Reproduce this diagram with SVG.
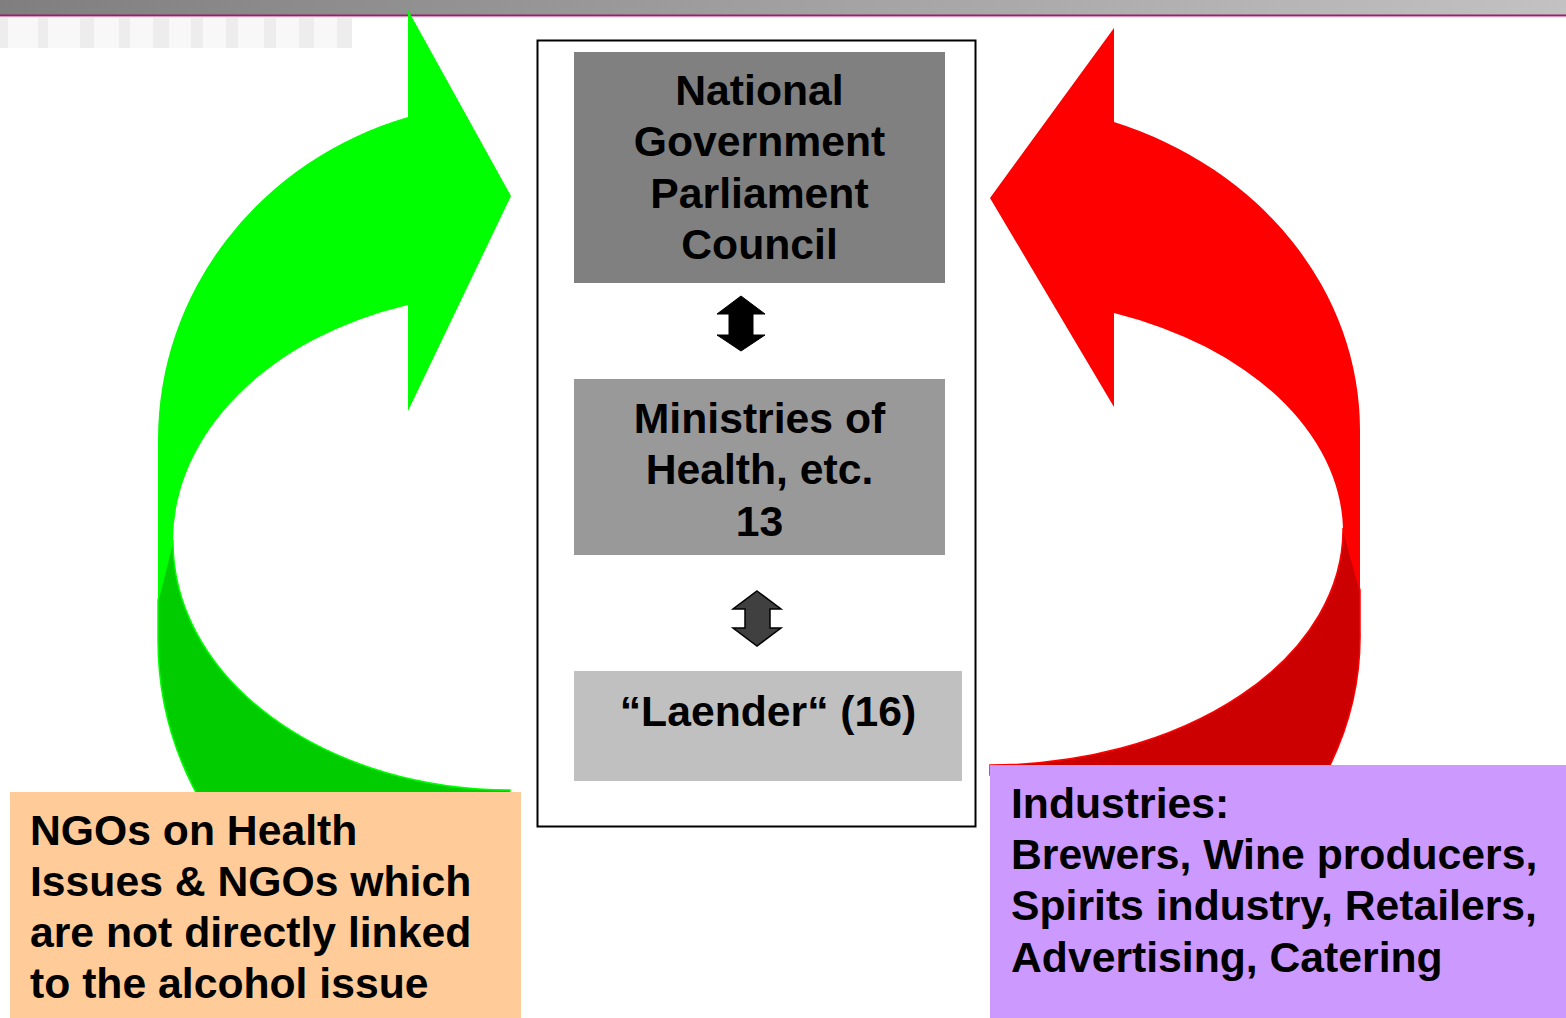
<svg xmlns="http://www.w3.org/2000/svg" width="1566" height="1018" viewBox="0 0 1566 1018">
<defs>
<linearGradient id="bar" x1="0" y1="0" x2="1" y2="0">
<stop offset="0" stop-color="#7f7f7f"/>
<stop offset="1" stop-color="#c2c2c2"/>
</linearGradient>
</defs>
<style>
text{font-family:"Liberation Sans",Arial,sans-serif;font-weight:bold;font-size:42.7px;fill:#000}
.c{text-anchor:middle}
.stripe{fill:#ededed}
</style>
<rect width="1566" height="1018" fill="#fff"/>
<rect x="0" y="0" width="1566" height="15" fill="url(#bar)"/>
<rect x="0" y="14.5" width="1566" height="2" fill="#9c1f6f"/>
<rect x="0" y="16.5" width="1566" height="0.8" fill="#d9a0c4"/>
<g id="stripes">
<rect x="0" y="18" width="352" height="30" fill="#f8f8f8"/>
<rect class="stripe" x="0" y="18" width="8" height="30"/>
<rect class="stripe" x="38" y="18" width="10" height="30"/>
<rect class="stripe" x="80" y="18" width="14" height="30"/>
<rect class="stripe" x="119" y="18" width="11" height="30"/>
<rect class="stripe" x="153" y="18" width="16" height="30"/>
<rect class="stripe" x="191" y="18" width="12" height="30"/>
<rect class="stripe" x="226" y="18" width="12" height="30"/>
<rect class="stripe" x="264" y="18" width="12" height="30"/>
<rect class="stripe" x="299" y="18" width="15" height="30"/>
<rect class="stripe" x="337" y="18" width="15" height="30"/>
</g>
<g id="green-arrow">
<path d="M 510,790 A 337 248 0 0 1 173,540 L 158,600 L 158,640 A 352 337 0 0 0 206,810 L 510,810 Z" fill="#00cc00" stroke="#00ff00" stroke-width="1.5"/>
<path d="M 408,117 L 408,10 L 511,196 L 408,411 L 408,305 A 337 248 0 0 0 173,540 L 158,600 L 158,440 A 352 337 0 0 1 408,117 Z" fill="#00ff00"/>
</g>
<g id="red-arrow">
<path d="M 990,765 A 353 235 0 0 0 1343,528 L 1360,590 L 1360,630 A 370 327 0 0 1 1325,775 L 990,775 Z" fill="#cc0000" stroke="#ff0000" stroke-width="1.5"/>
<path d="M 1114,122 L 1114,28 L 990,198 L 1114,407 L 1114,313 A 353 235 0 0 1 1343,528 L 1360,590 L 1360,430 A 370 327 0 0 0 1114,122 Z" fill="#ff0000"/>
</g>
<g id="center-frame">
<rect x="537.5" y="40.5" width="438" height="786" fill="#fff" stroke="#000" stroke-width="2"/>
</g>
<g id="national">
<rect x="574" y="52" width="371" height="231" fill="#808080"/>
<text class="c" x="759.5" y="105">National</text>
<text class="c" x="759.5" y="156">Government</text>
<text class="c" x="759.5" y="208">Parliament</text>
<text class="c" x="759.5" y="259">Council</text>
</g>
<g id="ministries">
<rect x="574" y="379" width="371" height="176" fill="#999999"/>
<text class="c" x="759.5" y="433">Ministries of</text>
<text class="c" x="759.5" y="484">Health, etc.</text>
<text class="c" x="759.5" y="536">13</text>
</g>
<g id="laender">
<rect x="574" y="671" width="388" height="110" fill="#c0c0c0"/>
<text class="c" x="768" y="726">“Laender“ (16)</text>
</g>
<g id="connectors">
<path d="M741,296 L765,314 L753,314 L753,335 L765,335 L741,351 L717,335 L729,335 L729,314 L717,314 Z" fill="#000" stroke="#000" stroke-width="1"/>
<path d="M757,591 L781,609 L770,609 L770,628 L781,628 L757,646 L733,628 L745,628 L745,609 L733,609 Z" fill="#404040" stroke="#000" stroke-width="1.5"/>
</g>
<g id="ngos">
<rect x="10" y="792" width="511" height="226" fill="#ffcc99"/>
<text x="30" y="845">NGOs on Health</text>
<text x="30" y="896">Issues &amp; NGOs which</text>
<text x="30" y="947">are not directly linked</text>
<text x="30" y="998">to the alcohol issue</text>
</g>
<g id="industries">
<rect x="990" y="765" width="576" height="253" fill="#cc99ff"/>
<text x="1011" y="818">Industries:</text>
<text x="1011" y="869">Brewers, Wine producers,</text>
<text x="1011" y="920">Spirits industry, Retailers,</text>
<text x="1011" y="972">Advertising, Catering</text>
</g>
</svg>
